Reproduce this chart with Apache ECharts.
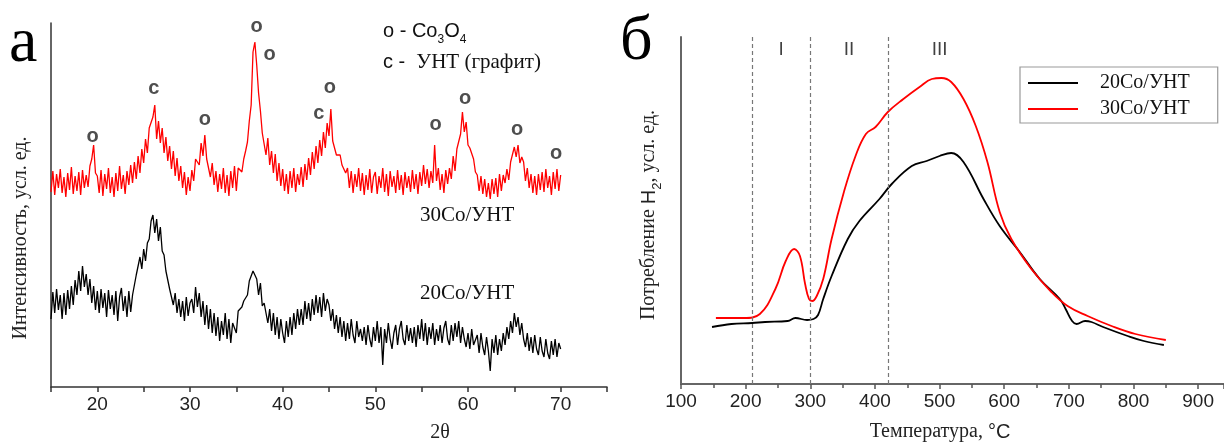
<!DOCTYPE html>
<html><head><meta charset="utf-8">
<script src="https://cdn.jsdelivr.net/npm/echarts@6/dist/echarts.min.js"></script>
<style>html,body{margin:0;padding:0;background:#fff}#c{width:1224px;height:442px}</style>
</head><body><div id="c"></div>
<script>
// ---------- Panel a: XRD (2θ from 15 to 70, step 0.2) ----------
const twoThetaStart = 15;
const twoThetaStep = 0.2;
const xrd30 = [
195,216,192,213,199, 218,194,210,190,214, 197,220,193,211,196, 215,192,217,199,212,
200,221,228,242,214, 211,194,217,191,213, 198,219,194,210,190, 214,196,221,198,212,
193,216,202,222,204, 225,208,231,214,238, 224,248,234,259,258, 270,282,248,266,244,
259,234,250,226,241, 218,236,211,229,206, 221,199,215,192,210, 196,217,206,228,228,
222,244,231,252,228, 229,210,224,202,216, 195,213,198,219,194, 212,191,216,199,221,
196,219,218,215,228, 236,245,266,282,335, 345,322,294,276,254, 252,232,249,222,236,
214,233,206,224,201, 218,196,213,193,216, 199,219,195,213,202, 220,200,223,207,229,
212,235,218,241,224, 247,231,255,239,264, 251,278,246,248,232, 230,232,222,222,214,
219,199,216,194,213, 200,219,196,214,192, 212,197,218,194,210, 215,193,211,199,219,
195,213,191,216,200, 211,194,217,197,212, 192,215,199,211,195, 217,198,213,193,215,
201,222,203,218,199, 216,204,242,206,219, 197,213,194,217,203, 219,208,231,216,238,
236,253,275,255,265, 242,239,237,228,215, 212,196,211,193,208, 190,204,188,208,193,
209,190,213,196,212, 204,218,207,225,224, 240,230,242,224,230, 225,206,219,199,213,
194,211,192,213,197, 215,195,218,199,211, 192,215,198,218,196, 212
];
const xrd20 = [
68,95,74,98,77, 92,68,94,72,97, 78,101,82,107,92, 116,96,121,100,113,
92,108,84,101,77, 96,74,98,79,94, 70,97,78,92,72, 96,66,90,99,76,
91,70,96,75,92, 92,112,111,130,118, 138,126,144,148,166, 172,154,168,146,160,
136,132,116,114,98, 99,82,94,74,88, 70,86,66,90,71, 84,88,74,100,80,
94,70,86,62,82, 58,78,54,74,51, 70,46,66,52,74, 48,68,44,64,62,
54,76,76,80,86, 88,92,106,104,116, 114,108,92,104,81, 84,86,64,78,56,
74,52,70,48,68, 54,44,66,50,70, 52,74,58,78,62, 78,62,86,68,84,
66,88,72,92,74, 90,70,94,76,88, 82,66,78,58,72, 54,70,50,66,46,
64,48,68,52,44, 66,50,58,46,60, 42,62,48,40,60, 46,66,44,60,22,
58,44,64,48,38, 54,62,42,58,66, 48,42,62,46,59, 44,60,40,62,48,
68,46,64,42,60, 48,64,42,58,46, 62,44,59,66,48, 42,62,46,64,50,
66,44,60,48,40, 54,38,58,42,44, 52,34,54,40,32, 50,36,16,48,34,
52,32,48,36,54, 42,60,48,66,54, 74,60,70,52,64, 48,40,54,36,50,
34,52,38,32,50, 36,30,48,34,28, 46,32,48,30,44, 38
];
// peak markers: letter, 2θ, height
const peakMarks = [
  ['o', 19.5, 251], ['c', 26.1, 299], ['o', 31.6, 268], ['o', 37.2, 361], ['o', 38.6, 333],
  ['c', 43.9, 274], ['o', 45.1, 300], ['o', 56.5, 263], ['o', 59.7, 289], ['o', 65.3, 258],
  ['o', 69.5, 234]
];

// ---------- Panel b: TPR ----------
const tpr20T = [148,178,210,230,265,277,295,305,312,320,333,358,376,407,426,457,480,500,518,537,568,593,624,655,686,695,705,712,725,735,753,791,816,847];
const tpr20V = [57,60,61,62,63,66,64,65,69,85,108,145,163,185,200,218,223,228,231,222,185,158,132,105,85,75,63,60,63,62,57,48,43,39];
const tpr30T = [154,197,222,246,262,275,284,292,298,303,310,320,333,352,370,386,401,420,444,469,488,503,518,537,556,574,593,611,642,673,698,729,766,803,850];
const tpr30V = [66,66,70,95,123,135,128,100,85,83,88,105,145,192,228,250,257,272,285,297,305,306,302,285,258,222,172,145,115,92,78,68,58,50,44];
const zoneBorders = [210, 300, 420];
const zoneLabels = [['I', 255], ['II', 360], ['III', 500]];
const seriesNames = ['20Co/УНТ', '30Co/УНТ'];

const SERIF = '"Liberation Serif", "Times New Roman", serif';
const SANS = '"Liberation Sans", Arial, sans-serif';

const chart = echarts.init(document.getElementById('c'), null, {renderer: 'canvas'});

const tickFmt10 = v => (Math.round(v) % 10 === 0 ? String(Math.round(v)) : '');

const option = {
  animation: false,
  backgroundColor: '#fff',
  grid: [
    {left: 51, top: 23, width: 556, bottom: 55},
    {left: 681, top: 37, right: 0, bottom: 58}
  ],
  xAxis: [
    {
      gridIndex: 0, type: 'value', min: 15, max: 75, interval: 5,
      axisLine: {show: true, lineStyle: {color: '#333', width: 1.5}},
      axisTick: {show: true, length: 5, lineStyle: {color: '#333', width: 1.5}},
      axisLabel: {formatter: tickFmt10, fontFamily: SANS, fontSize: 19, color: '#222', margin: 8},
      splitLine: {show: false}
    },
    {
      gridIndex: 1, type: 'value', min: 100, max: 940, interval: 100,
      axisLine: {show: true, lineStyle: {color: '#666', width: 2}},
      axisTick: {show: true, length: 5, lineStyle: {color: '#555', width: 1.5}},
      minorTick: {show: true, splitNumber: 2, length: 4, lineStyle: {color: '#555', width: 1.5}},
      axisLabel: {fontFamily: SANS, fontSize: 19, color: '#222', margin: 8, showMaxLabel: false},
      splitLine: {show: false}
    }
  ],
  yAxis: [
    {
      gridIndex: 0, type: 'value', min: 0, max: 364,
      axisLine: {show: true, lineStyle: {color: '#333', width: 1.5}},
      axisTick: {show: false}, axisLabel: {show: false}, splitLine: {show: false}
    },
    {
      gridIndex: 1, type: 'value', min: 0, max: 347,
      axisLine: {show: true, lineStyle: {color: '#666', width: 2}},
      axisTick: {show: false}, axisLabel: {show: false}, splitLine: {show: false}
    }
  ],
  legend: {
    data: seriesNames,
    orient: 'vertical',
    left: 1020, top: 67,
    padding: [6, 28, 4, 8],
    borderColor: '#999', borderWidth: 1.2, borderRadius: 0,
    itemWidth: 50, itemHeight: 2, itemGap: 6,
    icon: 'rect',
    textStyle: {fontFamily: SERIF, fontSize: 20, color: '#111', padding: [0, 0, 0, 17]}
  },
  series: [
    {
      name: 'XRD 30Co', type: 'line', xAxisIndex: 0, yAxisIndex: 0,
      data: xrd30.map((v, i) => [twoThetaStart + i * twoThetaStep, v]),
      showSymbol: false, symbol: 'none',
      lineStyle: {color: '#ff0000', width: 1.3}, itemStyle: {color: '#ff0000'}
    },
    {
      name: 'XRD 20Co', type: 'line', xAxisIndex: 0, yAxisIndex: 0,
      data: xrd20.map((v, i) => [twoThetaStart + i * twoThetaStep, v]),
      showSymbol: false, symbol: 'none',
      lineStyle: {color: '#000', width: 1.3}, itemStyle: {color: '#000'}
    },
    {
      name: 'marks', type: 'scatter', xAxisIndex: 0, yAxisIndex: 0,
      symbolSize: 0, silent: true,
      data: peakMarks.map(p => ({value: [p[1], p[2]], name: p[0]})),
      label: {show: true, position: 'inside', formatter: p => p.name,
        fontFamily: SANS, fontSize: 20, fontWeight: 'bold', color: '#222'}
    },
    {
      name: seriesNames[0], type: 'line', xAxisIndex: 1, yAxisIndex: 1,
      data: tpr20T.map((t, i) => [t, tpr20V[i]]),
      smooth: 0.4, showSymbol: false, symbol: 'none',
      lineStyle: {color: '#000', width: 1.8}, itemStyle: {color: '#000'},
      markLine: {
        silent: true, symbol: 'none', label: {show: false},
        lineStyle: {color: '#777', type: [4, 3], width: 1.2},
        data: zoneBorders.map(x => ({xAxis: x}))
      }
    },
    {
      name: seriesNames[1], type: 'line', xAxisIndex: 1, yAxisIndex: 1,
      data: tpr30T.map((t, i) => [t, tpr30V[i]]),
      smooth: 0.4, showSymbol: false, symbol: 'none',
      lineStyle: {color: '#ff0000', width: 1.8}, itemStyle: {color: '#ff0000'}
    },
    {
      name: 'zones', type: 'scatter', xAxisIndex: 1, yAxisIndex: 1,
      symbolSize: 0, silent: true,
      data: zoneLabels.map(z => ({value: [z[1], 334], name: z[0]})),
      label: {show: true, position: 'inside', formatter: p => p.name,
        fontFamily: SANS, fontSize: 19, color: '#111'}
    }
  ],
  graphic: [
    {type: 'text', left: 9, top: 12, style: {text: 'а', font: '64px ' + SERIF, fill: '#000'}},
    {type: 'text', left: 620, top: 10, style: {text: 'б', font: '64px ' + SERIF, fill: '#000'}},
    {type: 'text', x: 21, y: 238, rotation: Math.PI / 2,
      style: {text: 'Интенсивность, усл. ед.', font: '20px ' + SERIF, fill: '#222',
        textAlign: 'center', textVerticalAlign: 'middle'}},
    {type: 'text', x: 440, y: 433,
      style: {text: '2θ', font: '20px ' + SERIF, fill: '#222', textAlign: 'center', textVerticalAlign: 'middle'}},
    {type: 'text', x: 383, y: 30,
      style: {text: '{s|o - Co}{sub|3}{s|O}{sub|4}', textVerticalAlign: 'middle',
        rich: {s: {fontFamily: SANS, fontSize: 20, fill: '#111', lineHeight: 22, verticalAlign: 'bottom'},
               sub: {fontFamily: SANS, fontSize: 12, fill: '#111', lineHeight: 12, verticalAlign: 'bottom', padding: [0, 0, -5, 0]}}}},
    {type: 'text', x: 383, y: 62,
      style: {text: '{s|c -  }{t|УНТ (графит)}', textVerticalAlign: 'middle',
        rich: {s: {fontFamily: SANS, fontSize: 20, fill: '#111'},
               t: {fontFamily: SERIF, fontSize: 21, fill: '#111'}}}},
    {type: 'text', x: 420, y: 215,
      style: {text: '30Co/УНТ', font: '21px ' + SERIF, fill: '#111', textVerticalAlign: 'middle'}},
    {type: 'text', x: 420, y: 293,
      style: {text: '20Co/УНТ', font: '21px ' + SERIF, fill: '#111', textVerticalAlign: 'middle'}},
    {type: 'text', x: 648, y: 215, rotation: Math.PI / 2,
      style: {text: '{t|Потребление }{s|H}{sub|2}{t|, усл. ед.}', textAlign: 'center', textVerticalAlign: 'middle',
        rich: {t: {fontFamily: SERIF, fontSize: 20, fill: '#222', lineHeight: 22, verticalAlign: 'bottom'},
               s: {fontFamily: SANS, fontSize: 20, fill: '#222', lineHeight: 22, verticalAlign: 'bottom'},
               sub: {fontFamily: SANS, fontSize: 13, fill: '#222', lineHeight: 12, verticalAlign: 'bottom', padding: [0, 0, -5, 0]}}}},
    {type: 'text', x: 940, y: 432,
      style: {text: '{t|Температура, }{s|°C}', textAlign: 'center', textVerticalAlign: 'middle',
        rich: {t: {fontFamily: SERIF, fontSize: 20, fill: '#222'},
               s: {fontFamily: SANS, fontSize: 20, fill: '#222'}}}}
  ]
};
chart.setOption(option);
</script>
</body></html>
